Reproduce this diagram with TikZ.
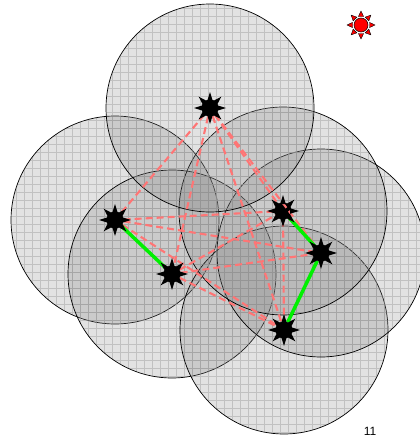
\documentclass[tikz,border=0pt]{standalone}
\usepackage{fontspec}
\setmainfont{Liberation Sans}
\usepackage{tikz}
\definecolor{LinkPink}{HTML}{FF7575}
\definecolor{LinkGreen}{HTML}{00F000}
\definecolor{ZoneGray}{HTML}{808080}

\begin{document}
\begin{tikzpicture}[
  x=1pt, y=-1pt,
  % coverage disc (shade + grid + rim)
  zone/.style={fill=ZoneGray, fill opacity=0.23},
  zonegrid/.style={draw=gray!80, line width=0.6pt, opacity=0.45},
  zonerim/.style={draw=black, line width=0.7pt},
  % sensor body
  sensor/.style={circle, fill=black, minimum size=17pt, inner sep=0pt},
  % base station body
  beacon/.style={circle, fill=red, draw=black, line width=0.5pt,
                 minimum size=14pt, inner sep=0pt},
  % candidate link
  link/.style={LinkPink, line width=2.1pt, dash pattern=on 7pt off 4pt},
  % chosen link
  tie/.style={LinkGreen, line width=3.5pt},
]
\useasboundingbox (0,0) rectangle (420,439);

%% ── Sensor positions ─────────────────────────────────────────────────────
\coordinate (pa) at (210,108);
\coordinate (pb) at (115,220);
\coordinate (pc) at (172,274);
\coordinate (pd) at (283,211);
\coordinate (pe) at (321,253);
\coordinate (pf) at (284,330);

%% ── Coverage discs ───────────────────────────────────────────────────────
\foreach \p in {pb,pc,pf,pe,pd,pa}{
  \fill[zone] (\p) circle[radius=104pt];
  \begin{scope}
    \clip (\p) circle[radius=104pt];
    \draw[zonegrid, step=8pt] (-4pt,-444pt) grid (424pt,4pt);
  \end{scope}
  \draw[zonerim] (\p) circle[radius=104pt];
}

%% ── Sensors ──────────────────────────────────────────────────────────────
\node[sensor] (a) at (pa) {};
\node[sensor] (b) at (pb) {};
\node[sensor] (c) at (pc) {};
\node[sensor] (d) at (pd) {};
\node[sensor] (e) at (pe) {};
\node[sensor] (f) at (pf) {};
\node[beacon] (s) at (361,25) {};

%% ── Links ────────────────────────────────────────────────────────────────
\foreach \u/\v in {a/b,a/c,a/d,a/e,a/f,b/d,b/e,b/f,c/d,c/e,c/f,d/f}{
  \draw[link] (\u) -- (\v);
}
\foreach \u/\v in {b/c,d/e,e/f}{
  \draw[tie] (\u) -- (\v);
}

%% ── Spikes ───────────────────────────────────────────────────────────────
\foreach \n in {a,b,c,d,e,f}{
  \foreach \t in {0,45,...,315}{
    \fill[black, shift={(\n)}, rotate=\t] (16,0) -- (7,2.8) -- (7,-2.8) -- cycle;
  }
}
\foreach \t in {0,45,...,315}{
  \filldraw[fill=red, draw=black, line width=0.4pt, shift={(s)}, rotate=\t]
    (14,0) -- (8.5,2.6) -- (8.5,-2.6) -- cycle;
}

%% ── Page number ──────────────────────────────────────────────────────────
\node[font=\fontsize{12}{12}\selectfont] (pg) at (370,431) {11};

\end{tikzpicture}
\end{document}
